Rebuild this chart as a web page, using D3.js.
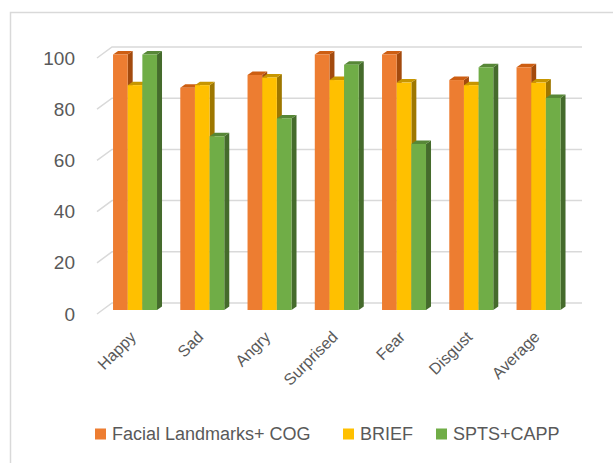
<!DOCTYPE html>
<html><head><meta charset="utf-8">
<script src="https://cdn.jsdelivr.net/npm/d3@7"></script>
<style>body{margin:0;background:#fff}svg{display:block}</style>
</head><body>
<svg id="c" width="613" height="463"></svg>
<script>
const categories = ["Happy","Sad","Angry","Surprised","Fear","Disgust","Average"];
const seriesNames = ["Facial Landmarks+ COG","BRIEF","SPTS+CAPP"];
const landmarksCOG = [100, 87, 92, 100, 100, 90, 95];
const brief        = [88, 88, 91, 90, 89, 88, 89];
const sptsCapp     = [100, 68, 75, 96, 65, 95, 83];
const yTicks = [0, 20, 40, 60, 80, 100];
const colors = ["#ED7D31","#FFC000","#70AD47"];

const allSeries = [landmarksCOG, brief, sptsCapp];
const svg = d3.select("#c");
const font = "'Liberation Sans', Arial, sans-serif";
const textColor = "#595959";

// chart frame
svg.append("path").attr("d","M10.5,463 L10.5,12.5 L613,12.5")
  .attr("fill","none").attr("stroke","#D9D9D9").attr("stroke-width",1.5);

const yFront = d3.scaleLinear().domain([0,100]).range([314,58]);
const yBar = d3.scaleLinear().domain([0,100]).range([310,54.5]);
const wallDx = 15, wallDy = -11;
const frontLeft = 97, backRight = 582;

// gridlines (back wall + side slant)
svg.append("g").selectAll("path").data(yTicks).join("path")
  .attr("d", t => `M${frontLeft},${yFront(t)} L${frontLeft+wallDx},${yFront(t)+wallDy} L${backRight},${yFront(t)+wallDy}`)
  .attr("fill","none").attr("stroke","#D9D9D9").attr("stroke-width",1.5);

// y tick labels
svg.append("g").selectAll("text").data(yTicks).join("text")
  .attr("x", 75).attr("y", t => yFront(t))
  .attr("dy","0.35em").attr("text-anchor","end")
  .attr("font-family", font).attr("font-size", 19).attr("fill", textColor)
  .text(d => d);

const x0 = d3.scaleBand().domain(categories).range([101.4, 572.15]).paddingInner(0.346).paddingOuter(0.173);
const x1 = d3.scaleBand().domain(seriesNames).range([0, x0.bandwidth()]);
const dx = 5, dy = -3.5;

const darker = (c, k) => { const h = d3.hsl(c); h.l *= k; return h.formatHex(); };

const bars = [];
categories.forEach((c, i) => {
  seriesNames.forEach((s, j) => {
    bars.push({c, s, j, v: allSeries[j][i]});
  });
});

const g = svg.append("g");
const bg = g.selectAll("g").data(bars).join("g");
bg.each(function(d){
  const sel = d3.select(this);
  const xl = x0(d.c) + x1(d.s);
  const w = x1.bandwidth();
  const yt = yBar(d.v), yb = yBar(0);
  // side face
  sel.append("path")
    .attr("d", `M${xl+w},${yt} L${xl+w+dx},${yt+dy} L${xl+w+dx},${yb+dy} L${xl+w},${yb} Z`)
    .attr("fill", darker(colors[d.j], 0.62));
  // top face
  sel.append("path")
    .attr("d", `M${xl},${yt} L${xl+dx},${yt+dy} L${xl+w+dx},${yt+dy} L${xl+w},${yt} Z`)
    .attr("fill", darker(colors[d.j], 0.78));
  // front face
  sel.append("rect").attr("x", xl).attr("y", yt).attr("width", w).attr("height", yb-yt)
    .attr("fill", colors[d.j]);
});

// category labels
svg.append("g").selectAll("text").data(categories).join("text")
  .attr("transform", c => `translate(${x0(c)+x0.bandwidth()/2+2},${338}) rotate(-45)`)
  .attr("text-anchor","end")
  .attr("font-family", font).attr("font-size", 16).attr("fill", textColor)
  .text(c => c);

// legend
const legendX = [95, 343, 436];
const lg = svg.append("g").selectAll("g").data(seriesNames).join("g")
  .attr("transform", (s,i) => `translate(${legendX[i]},434)`);
lg.append("rect").attr("x",0).attr("y",-5.5).attr("width",11).attr("height",11)
  .attr("fill", (s,i) => colors[i]);
lg.append("text").attr("x",17).attr("y",0).attr("dy","0.35em")
  .attr("font-family", font).attr("font-size", 18).attr("fill", textColor)
  .text(s => s);
</script>
</body></html>
